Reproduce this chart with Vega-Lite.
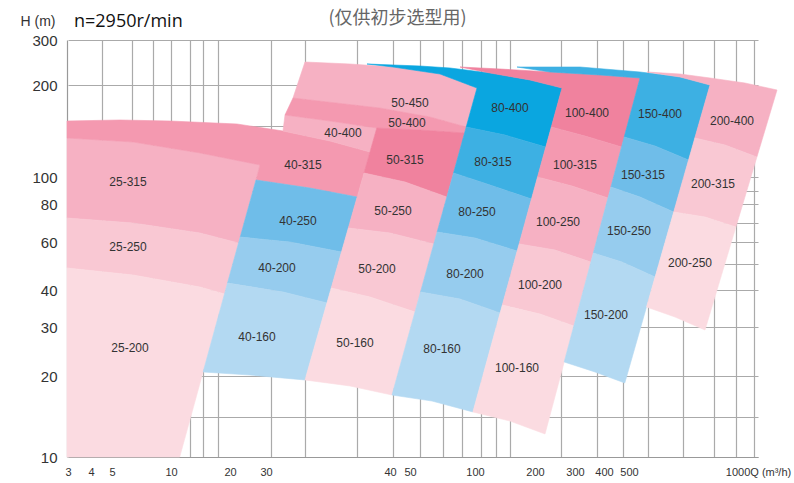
{
"$schema":"https://vega.github.io/schema/vega-lite/v6.json",
"width":723,"height":417,
"autosize":{"type":"none"},
"padding":{"left":67,"top":40,"right":4,"bottom":26},
"background":"white",
"config":{"view":{"stroke":null},"font":"Liberation Sans"},
"title":{"text":"n=2950r/min","anchor":"start","frame":"group","dx":7,"offset":0,"dy":31,"baseline":"middle","fontSize":18,"fontWeight":"normal","font":"Open Sans","color":"#111111"},
"datasets":{
"tiles":[
{"pump":"25-315","i":0,"Q":2.957,"H":142.39,"tone":"p3"},{"pump":"25-315","i":1,"Q":6.78,"H":138.04,"tone":"p3"},{"pump":"25-315","i":2,"Q":14.915,"H":126.09,"tone":"p3"},{"pump":"25-315","i":3,"Q":28.333,"H":113.04,"tone":"p3"},{"pump":"25-315","i":4,"Q":22.361,"H":59.58,"tone":"p3"},{"pump":"25-315","i":5,"Q":14.915,"H":64.74,"tone":"p3"},{"pump":"25-315","i":6,"Q":6.78,"H":70,"tone":"p3"},{"pump":"25-315","i":7,"Q":2.957,"H":72.63,"tone":"p3"},
{"pump":"25-250","i":0,"Q":2.957,"H":72.63,"tone":"p2"},{"pump":"25-250","i":1,"Q":6.78,"H":70,"tone":"p2"},{"pump":"25-250","i":2,"Q":14.915,"H":64.74,"tone":"p2"},{"pump":"25-250","i":3,"Q":22.361,"H":59.58,"tone":"p2"},{"pump":"25-250","i":4,"Q":19.068,"H":38.92,"tone":"p2"},{"pump":"25-250","i":5,"Q":14.915,"H":41.25,"tone":"p2"},{"pump":"25-250","i":6,"Q":6.78,"H":46.25,"tone":"p2"},{"pump":"25-250","i":7,"Q":2.957,"H":49.17,"tone":"p2"},
{"pump":"25-200","i":0,"Q":2.957,"H":49.17,"tone":"p1"},{"pump":"25-200","i":1,"Q":6.78,"H":46.25,"tone":"p1"},{"pump":"25-200","i":2,"Q":14.915,"H":41.25,"tone":"p1"},{"pump":"25-200","i":3,"Q":19.068,"H":38.92,"tone":"p1"},{"pump":"25-200","i":4,"Q":11.475,"H":10,"tone":"p1"},{"pump":"25-200","i":5,"Q":2.957,"H":10,"tone":"p1"},
{"pump":"40-315","i":0,"Q":2.957,"H":160.87,"tone":"p4"},{"pump":"40-315","i":1,"Q":5.678,"H":161.96,"tone":"p4"},{"pump":"40-315","i":2,"Q":9.915,"H":160.87,"tone":"p4"},{"pump":"40-315","i":3,"Q":21.944,"H":157.61,"tone":"p4"},{"pump":"40-315","i":4,"Q":31.371,"H":150,"tone":"p4"},{"pump":"40-315","i":5,"Q":35.161,"H":139.13,"tone":"p4"},{"pump":"40-315","i":6,"Q":38.387,"H":127.17,"tone":"p4"},{"pump":"40-315","i":7,"Q":37.355,"H":85.19,"tone":"p4"},{"pump":"40-315","i":8,"Q":33.548,"H":91.85,"tone":"p4"},{"pump":"40-315","i":9,"Q":27.222,"H":97.78,"tone":"p4"},{"pump":"40-315","i":10,"Q":28.333,"H":113.04,"tone":"p4"},{"pump":"40-315","i":11,"Q":14.915,"H":126.09,"tone":"p4"},{"pump":"40-315","i":12,"Q":6.78,"H":138.04,"tone":"p4"},{"pump":"40-315","i":13,"Q":2.957,"H":142.39,"tone":"p4"},
{"pump":"40-400","i":0,"Q":31.532,"H":167.39,"tone":"p3"},{"pump":"40-400","i":1,"Q":35.161,"H":160.87,"tone":"p3"},{"pump":"40-400","i":2,"Q":38.935,"H":153.26,"tone":"p3"},{"pump":"40-400","i":3,"Q":38.387,"H":127.17,"tone":"p3"},{"pump":"40-400","i":4,"Q":35.161,"H":139.13,"tone":"p3"},{"pump":"40-400","i":5,"Q":31.371,"H":150,"tone":"p3"},
{"pump":"40-250","i":0,"Q":27.222,"H":97.78,"tone":"b3"},{"pump":"40-250","i":1,"Q":33.548,"H":91.85,"tone":"b3"},{"pump":"40-250","i":2,"Q":37.355,"H":85.19,"tone":"b3"},{"pump":"40-250","i":3,"Q":36.089,"H":55.83,"tone":"b3"},{"pump":"40-250","i":4,"Q":31.935,"H":60,"tone":"b3"},{"pump":"40-250","i":5,"Q":22.833,"H":62.63,"tone":"b3"},
{"pump":"40-200","i":0,"Q":22.833,"H":62.63,"tone":"b2"},{"pump":"40-200","i":1,"Q":31.935,"H":60,"tone":"b2"},{"pump":"40-200","i":2,"Q":36.089,"H":55.83,"tone":"b2"},{"pump":"40-200","i":3,"Q":34.919,"H":36.49,"tone":"b2"},{"pump":"40-200","i":4,"Q":31.371,"H":39.46,"tone":"b2"},{"pump":"40-200","i":5,"Q":19.576,"H":42.92,"tone":"b2"},
{"pump":"40-160","i":0,"Q":19.576,"H":42.92,"tone":"b1"},{"pump":"40-160","i":1,"Q":31.371,"H":39.46,"tone":"b1"},{"pump":"40-160","i":2,"Q":34.919,"H":36.49,"tone":"b1"},{"pump":"40-160","i":3,"Q":33.145,"H":19.51,"tone":"b1"},{"pump":"40-160","i":4,"Q":25.556,"H":20.2,"tone":"b1"},{"pump":"40-160","i":5,"Q":15.441,"H":20.82,"tone":"b1"},
{"pump":"50-450","i":0,"Q":33.145,"H":251.11,"tone":"p3"},{"pump":"50-450","i":1,"Q":36.774,"H":246.67,"tone":"p3"},{"pump":"50-450","i":2,"Q":41.5,"H":240,"tone":"p3"},{"pump":"50-450","i":3,"Q":73.077,"H":224.44,"tone":"p3"},{"pump":"50-450","i":4,"Q":103.333,"H":196.74,"tone":"p3"},{"pump":"50-450","i":5,"Q":93.231,"H":154.35,"tone":"p3"},{"pump":"50-450","i":6,"Q":65.385,"H":165.22,"tone":"p3"},{"pump":"50-450","i":7,"Q":39.194,"H":175,"tone":"p3"},{"pump":"50-450","i":8,"Q":32.177,"H":185.87,"tone":"p3"},
{"pump":"50-400","i":0,"Q":32.177,"H":185.87,"tone":"p4"},{"pump":"50-400","i":1,"Q":39.194,"H":175,"tone":"p4"},{"pump":"50-400","i":2,"Q":65.385,"H":165.22,"tone":"p4"},{"pump":"50-400","i":3,"Q":93.231,"H":154.35,"tone":"p4"},{"pump":"50-400","i":4,"Q":91.923,"H":147.83,"tone":"p4"},{"pump":"50-400","i":5,"Q":57.692,"H":151.09,"tone":"p4"},{"pump":"50-400","i":6,"Q":38.935,"H":153.26,"tone":"p4"},{"pump":"50-400","i":7,"Q":35.161,"H":160.87,"tone":"p4"},{"pump":"50-400","i":8,"Q":31.532,"H":167.39,"tone":"p4"},
{"pump":"50-315","i":0,"Q":38.935,"H":153.26,"tone":"p5"},{"pump":"50-315","i":1,"Q":57.692,"H":151.09,"tone":"p5"},{"pump":"50-315","i":2,"Q":91.923,"H":147.83,"tone":"p5"},{"pump":"50-315","i":3,"Q":78.308,"H":85.19,"tone":"p5"},{"pump":"50-315","i":4,"Q":47.5,"H":96.3,"tone":"p5"},{"pump":"50-315","i":5,"Q":37.903,"H":104.35,"tone":"p5"},
{"pump":"50-250","i":0,"Q":37.903,"H":104.35,"tone":"p3"},{"pump":"50-250","i":1,"Q":47.5,"H":96.3,"tone":"p3"},{"pump":"50-250","i":2,"Q":78.308,"H":85.19,"tone":"p3"},{"pump":"50-250","i":3,"Q":68.308,"H":59.17,"tone":"p3"},{"pump":"50-250","i":4,"Q":40,"H":64.74,"tone":"p3"},{"pump":"50-250","i":5,"Q":36.637,"H":67.37,"tone":"p3"},
{"pump":"50-200","i":0,"Q":36.637,"H":67.37,"tone":"p2"},{"pump":"50-200","i":1,"Q":40,"H":64.74,"tone":"p2"},{"pump":"50-200","i":2,"Q":68.308,"H":59.17,"tone":"p2"},{"pump":"50-200","i":3,"Q":53.846,"H":34.05,"tone":"p2"},{"pump":"50-200","i":4,"Q":38.387,"H":38.11,"tone":"p2"},{"pump":"50-200","i":5,"Q":35.258,"H":40.83,"tone":"p2"},
{"pump":"50-160","i":0,"Q":35.258,"H":40.83,"tone":"p1"},{"pump":"50-160","i":1,"Q":38.387,"H":38.11,"tone":"p1"},{"pump":"50-160","i":2,"Q":53.846,"H":34.05,"tone":"p1"},{"pump":"50-160","i":3,"Q":41,"H":17.65,"tone":"p1"},{"pump":"50-160","i":4,"Q":36.774,"H":18.77,"tone":"p1"},{"pump":"50-160","i":5,"Q":33.145,"H":19.51,"tone":"p1"},
{"pump":"80-400","i":0,"Q":38.145,"H":246.67,"tone":"b5"},{"pump":"80-400","i":1,"Q":57.692,"H":242.22,"tone":"b5"},{"pump":"80-400","i":2,"Q":80.769,"H":237.78,"tone":"b5"},{"pump":"80-400","i":3,"Q":125,"H":226.67,"tone":"b5"},{"pump":"80-400","i":4,"Q":191.667,"H":211.11,"tone":"b5"},{"pump":"80-400","i":5,"Q":267.5,"H":196.74,"tone":"b5"},{"pump":"80-400","i":6,"Q":227,"H":132.61,"tone":"b5"},{"pump":"80-400","i":7,"Q":150,"H":145.65,"tone":"b5"},{"pump":"80-400","i":8,"Q":93.231,"H":154.35,"tone":"b5"},{"pump":"80-400","i":9,"Q":103.333,"H":196.74,"tone":"b5"},{"pump":"80-400","i":10,"Q":73.077,"H":224.44,"tone":"b5"},{"pump":"80-400","i":11,"Q":41.5,"H":240,"tone":"b5"},
{"pump":"80-315","i":0,"Q":93.231,"H":154.35,"tone":"b4"},{"pump":"80-315","i":1,"Q":150,"H":145.65,"tone":"b4"},{"pump":"80-315","i":2,"Q":227,"H":132.61,"tone":"b4"},{"pump":"80-315","i":3,"Q":194.167,"H":83.7,"tone":"b4"},{"pump":"80-315","i":4,"Q":125,"H":94.07,"tone":"b4"},{"pump":"80-315","i":5,"Q":83.462,"H":104.35,"tone":"b4"},
{"pump":"80-250","i":0,"Q":83.462,"H":104.35,"tone":"b3"},{"pump":"80-250","i":1,"Q":125,"H":94.07,"tone":"b3"},{"pump":"80-250","i":2,"Q":194.167,"H":83.7,"tone":"b3"},{"pump":"80-250","i":3,"Q":170.333,"H":56.25,"tone":"b3"},{"pump":"80-250","i":4,"Q":100,"H":62.11,"tone":"b3"},{"pump":"80-250","i":5,"Q":70.846,"H":65.26,"tone":"b3"},
{"pump":"80-200","i":0,"Q":70.846,"H":65.26,"tone":"b2"},{"pump":"80-200","i":1,"Q":100,"H":62.11,"tone":"b2"},{"pump":"80-200","i":2,"Q":170.333,"H":56.25,"tone":"b2"},{"pump":"80-200","i":3,"Q":141.833,"H":33.78,"tone":"b2"},{"pump":"80-200","i":4,"Q":88.462,"H":37.57,"tone":"b2"},{"pump":"80-200","i":5,"Q":58.077,"H":39.46,"tone":"b2"},
{"pump":"80-160","i":0,"Q":58.077,"H":39.46,"tone":"b1"},{"pump":"80-160","i":1,"Q":88.462,"H":37.57,"tone":"b1"},{"pump":"80-160","i":2,"Q":141.833,"H":33.78,"tone":"b1"},{"pump":"80-160","i":3,"Q":98.385,"H":15.56,"tone":"b1"},{"pump":"80-160","i":4,"Q":66.923,"H":16.91,"tone":"b1"},{"pump":"80-160","i":5,"Q":41,"H":17.65,"tone":"b1"},
{"pump":"100-400","i":0,"Q":88.462,"H":240,"tone":"p5"},{"pump":"100-400","i":1,"Q":141.667,"H":235.56,"tone":"p5"},{"pump":"100-400","i":2,"Q":237.5,"H":228.89,"tone":"p5"},{"pump":"100-400","i":3,"Q":386.207,"H":222.22,"tone":"p5"},{"pump":"100-400","i":4,"Q":542.636,"H":215.56,"tone":"p5"},{"pump":"100-400","i":5,"Q":470.4,"H":132.61,"tone":"p5"},{"pump":"100-400","i":6,"Q":334.483,"H":144.57,"tone":"p5"},{"pump":"100-400","i":7,"Q":240.75,"H":154.35,"tone":"p5"},{"pump":"100-400","i":8,"Q":267.5,"H":196.74,"tone":"p5"},{"pump":"100-400","i":9,"Q":191.667,"H":211.11,"tone":"p5"},{"pump":"100-400","i":10,"Q":125,"H":226.67,"tone":"p5"},
{"pump":"100-315","i":0,"Q":240.75,"H":154.35,"tone":"p4"},{"pump":"100-315","i":1,"Q":334.483,"H":144.57,"tone":"p4"},{"pump":"100-315","i":2,"Q":470.4,"H":132.61,"tone":"p4"},{"pump":"100-315","i":3,"Q":416,"H":84.44,"tone":"p4"},{"pump":"100-315","i":4,"Q":292.5,"H":93.33,"tone":"p4"},{"pump":"100-315","i":5,"Q":206.25,"H":100,"tone":"p4"},
{"pump":"100-250","i":0,"Q":206.25,"H":100,"tone":"p3"},{"pump":"100-250","i":1,"Q":292.5,"H":93.33,"tone":"p3"},{"pump":"100-250","i":2,"Q":416,"H":84.44,"tone":"p3"},{"pump":"100-250","i":3,"Q":354.828,"H":51.67,"tone":"p3"},{"pump":"100-250","i":4,"Q":250,"H":56.67,"tone":"p3"},{"pump":"100-250","i":5,"Q":173.5,"H":59.17,"tone":"p3"},
{"pump":"100-200","i":0,"Q":173.5,"H":59.17,"tone":"p2"},{"pump":"100-200","i":1,"Q":250,"H":56.67,"tone":"p2"},{"pump":"100-200","i":2,"Q":354.828,"H":51.67,"tone":"p2"},{"pump":"100-200","i":3,"Q":297,"H":30.27,"tone":"p2"},{"pump":"100-200","i":4,"Q":212.5,"H":33.51,"tone":"p2"},{"pump":"100-200","i":5,"Q":145.5,"H":35.95,"tone":"p2"},
{"pump":"100-160","i":0,"Q":145.5,"H":35.95,"tone":"p1"},{"pump":"100-160","i":1,"Q":212.5,"H":33.51,"tone":"p1"},{"pump":"100-160","i":2,"Q":297,"H":30.27,"tone":"p1"},{"pump":"100-160","i":3,"Q":225,"H":12.84,"tone":"p1"},{"pump":"100-160","i":4,"Q":158.333,"H":14.44,"tone":"p1"},{"pump":"100-160","i":5,"Q":98.385,"H":15.56,"tone":"p1"},
{"pump":"150-400","i":0,"Q":170,"H":240,"tone":"b4"},{"pump":"150-400","i":1,"Q":317.241,"H":240,"tone":"b4"},{"pump":"150-400","i":2,"Q":542.636,"H":228.89,"tone":"b4"},{"pump":"150-400","i":3,"Q":697.674,"H":217.78,"tone":"b4"},{"pump":"150-400","i":4,"Q":813.953,"H":200,"tone":"b4"},{"pump":"150-400","i":5,"Q":731.008,"H":118.48,"tone":"b4"},{"pump":"150-400","i":6,"Q":600.775,"H":133.7,"tone":"b4"},{"pump":"150-400","i":7,"Q":480.8,"H":143.48,"tone":"b4"},{"pump":"150-400","i":8,"Q":542.636,"H":215.56,"tone":"b4"},{"pump":"150-400","i":9,"Q":386.207,"H":222.22,"tone":"b4"},{"pump":"150-400","i":10,"Q":237.5,"H":228.89,"tone":"b4"},
{"pump":"150-315","i":0,"Q":480.8,"H":143.48,"tone":"b3"},{"pump":"150-315","i":1,"Q":600.775,"H":133.7,"tone":"b3"},{"pump":"150-315","i":2,"Q":731.008,"H":118.48,"tone":"b3"},{"pump":"150-315","i":3,"Q":673.256,"H":75.79,"tone":"b3"},{"pump":"150-315","i":4,"Q":542.636,"H":85.19,"tone":"b3"},{"pump":"150-315","i":5,"Q":427.6,"H":92.59,"tone":"b3"},
{"pump":"150-250","i":0,"Q":427.6,"H":92.59,"tone":"b2"},{"pump":"150-250","i":1,"Q":542.636,"H":85.19,"tone":"b2"},{"pump":"150-250","i":2,"Q":673.256,"H":75.79,"tone":"b2"},{"pump":"150-250","i":3,"Q":601.163,"H":45.42,"tone":"b2"},{"pump":"150-250","i":4,"Q":472,"H":51.67,"tone":"b2"},{"pump":"150-250","i":5,"Q":363.103,"H":55.42,"tone":"b2"},
{"pump":"150-200","i":0,"Q":363.103,"H":55.42,"tone":"b1"},{"pump":"150-200","i":1,"Q":472,"H":51.67,"tone":"b1"},{"pump":"150-200","i":2,"Q":601.163,"H":45.42,"tone":"b1"},{"pump":"150-200","i":3,"Q":567.829,"H":35.41,"tone":"b1"},{"pump":"150-200","i":4,"Q":483.2,"H":19.14,"tone":"b1"},{"pump":"150-200","i":5,"Q":368.966,"H":20.82,"tone":"b1"},{"pump":"150-200","i":6,"Q":273,"H":22.86,"tone":"b1"},
{"pump":"200-400","i":0,"Q":569.767,"H":228.89,"tone":"p3"},{"pump":"200-400","i":1,"Q":697.674,"H":224.44,"tone":"p3"},{"pump":"200-400","i":2,"Q":813.953,"H":215.56,"tone":"p3"},{"pump":"200-400","i":3,"Q":949.225,"H":204.44,"tone":"p3"},{"pump":"200-400","i":4,"Q":1073.643,"H":194.57,"tone":"p3"},{"pump":"200-400","i":5,"Q":995.736,"H":121.74,"tone":"p3"},{"pump":"200-400","i":6,"Q":872.093,"H":134.78,"tone":"p3"},{"pump":"200-400","i":7,"Q":755.039,"H":142.39,"tone":"p3"},{"pump":"200-400","i":8,"Q":813.953,"H":200,"tone":"p3"},{"pump":"200-400","i":9,"Q":697.674,"H":217.78,"tone":"p3"},
{"pump":"200-315","i":0,"Q":755.039,"H":142.39,"tone":"p2"},{"pump":"200-315","i":1,"Q":872.093,"H":134.78,"tone":"p2"},{"pump":"200-315","i":2,"Q":995.736,"H":121.74,"tone":"p2"},{"pump":"200-315","i":3,"Q":914.341,"H":67.9,"tone":"p2"},{"pump":"200-315","i":4,"Q":794.574,"H":73.16,"tone":"p2"},{"pump":"200-315","i":5,"Q":673.256,"H":75.79,"tone":"p2"},
{"pump":"200-250","i":0,"Q":673.256,"H":75.79,"tone":"p1"},{"pump":"200-250","i":1,"Q":794.574,"H":73.16,"tone":"p1"},{"pump":"200-250","i":2,"Q":914.341,"H":67.9,"tone":"p1"},{"pump":"200-250","i":3,"Q":794.574,"H":29.39,"tone":"p1"},{"pump":"200-250","i":4,"Q":678.295,"H":32.7,"tone":"p1"},{"pump":"200-250","i":5,"Q":567.829,"H":35.41,"tone":"p1"}
],
"labels":[
{"pump":"25-315","Q":6.356,"H":96.3},{"pump":"25-250","Q":6.356,"H":57.92},{"pump":"25-200","Q":6.525,"H":25.71},
{"pump":"40-315","Q":32.984,"H":113.04},{"pump":"40-400","Q":36.21,"H":147.83},{"pump":"40-250","Q":32.581,"H":71.05},{"pump":"40-200","Q":30.887,"H":49.17},{"pump":"40-160","Q":27.5,"H":27.96},
{"pump":"50-450","Q":50,"H":180.43},{"pump":"50-400","Q":48.5,"H":158.7},{"pump":"50-315","Q":47.5,"H":118.48},{"pump":"50-250","Q":41.5,"H":76.32},{"pump":"50-200","Q":38.952,"H":48.75},{"pump":"50-160","Q":37.177,"H":26.73},
{"pump":"80-400","Q":158.333,"H":175},{"pump":"80-315","Q":130,"H":116.3},{"pump":"80-250","Q":103.333,"H":75.79},{"pump":"80-200","Q":92.308,"H":46.67},{"pump":"80-160","Q":74.615,"H":25.51},
{"pump":"100-400","Q":341.379,"H":169.57},{"pump":"100-315","Q":300,"H":113.04},{"pump":"100-250","Q":257.5,"H":70.53},{"pump":"100-200","Q":212.5,"H":42.08},{"pump":"100-160","Q":170,"H":21.63},
{"pump":"150-400","Q":620.155,"H":168.48},{"pump":"150-315","Q":554.264,"H":102.17},{"pump":"150-250","Q":500,"H":65.79},{"pump":"150-200","Q":408,"H":33.24},
{"pump":"200-400","Q":899.225,"H":160.87},{"pump":"200-315","Q":825.581,"H":94.82},{"pump":"200-250","Q":736.434,"H":51.25}
]
},
"encoding":{
"x":{"field":"Q","type":"quantitative",
 "scale":{"type":"linear","domain":[3,4,5,10,20,30,40,50,100,200,300,400,500,1000],"range":[1,24,45,104,163,199,323,343,408,468,508,537,562,691],"nice":false,"zero":false},
 "axis":{"values":[3,4,4.52,5,6.69,8.47,10,13.22,15.42,17.97,20,30,30.4,33.15,37.34,40,41.5,50,57.7,75.4,90,100,110,135,158.3,200,265,300,375.9,400,476,500,573.6,709.3,829.5,914.7,984.5,1000,1050.4,1116.3],
  "labelExpr":"indexof([3,4,5,10,20,30,40,50,100,200,300,400,500,1000], datum.value) >= 0 ? (datum.value == 1000 ? '1000Q (m³/h)' : toString(datum.value)) : ''",
  "grid":true,
  "gridOpacity":{"condition":{"test":"indexof([3,4,5,20,30,40,50,100,200,300,400,500,1000], datum.value) >= 0","value":0},"value":1},
  "gridColor":"#aaaaaa","gridWidth":1.2,
  "ticks":false,"domainColor":"#999999","domainWidth":1.2,
  "labelFont":"Liberation Sans","labelFontSize":11,"labelColor":"#333333","labelPadding":9,"labelOverlap":false,"labelFlush":false,"labelBound":false,
  "title":"(仅供初步选型用)","titleFont":"Noto Sans CJK SC","titleFontSize":18,"titleFontWeight":"normal","titleColor":"#666666","titleX":330,"titleY":-439,"titleBaseline":"middle","titleAlign":"center"}},
"y":{"field":"H","type":"quantitative",
 "scale":{"type":"linear","domain":[10,20,30,40,60,80,100,200,300],"range":[417,336,287,250,202,164,137,45,0],"nice":false,"zero":false},
 "axis":{"values":[10,15,20,30,40,51,60,70,80,90,100,155,200,300],
  "labelExpr":"indexof([10,20,30,40,60,80,100,200,300], datum.value) >= 0 ? toString(datum.value) : ''",
  "grid":true,"gridColor":"#aaaaaa","gridWidth":1.2,
  "ticks":false,"domainColor":"#999999","domainWidth":1.2,
  "labelFont":"Liberation Sans","labelFontSize":15,"labelColor":"#333333","labelPadding":10,"labelOverlap":false,"labelBound":false,
  "title":"H (m)","titleAngle":0,"titleX":-47,"titleY":-19,"titleAlign":"left","titleBaseline":"middle","titleFont":"Liberation Sans","titleFontSize":14,"titleFontWeight":"normal","titleColor":"#333333"}}
},
"layer":[
{"data":{"name":"tiles"},
 "mark":{"type":"line","interpolate":"linear-closed","strokeWidth":0.6},
 "encoding":{
  "detail":{"field":"pump"},
  "order":{"field":"i","type":"quantitative"},
  "fill":{"field":"tone","type":"nominal","legend":null,"scale":{"domain":["p1","p2","p3","p4","p5","b1","b2","b3","b4","b5"],"range":["#fbdbe1","#f9c8d3","#f6b1c3","#f499b0","#f0829e","#b3d9f2","#96ccee","#6fbde9","#3db0e3","#0aa6e0"]}},
  "stroke":{"field":"tone","type":"nominal","legend":null,"scale":{"domain":["p1","p2","p3","p4","p5","b1","b2","b3","b4","b5"],"range":["#fbdbe1","#f9c8d3","#f6b1c3","#f499b0","#f0829e","#b3d9f2","#96ccee","#6fbde9","#3db0e3","#0aa6e0"]}}
 }},
{"data":{"name":"labels"},
 "mark":{"type":"text","font":"Liberation Sans","fontSize":12,"color":"#333333","align":"center","baseline":"middle"},
 "encoding":{"text":{"field":"pump"}}}
]
}
